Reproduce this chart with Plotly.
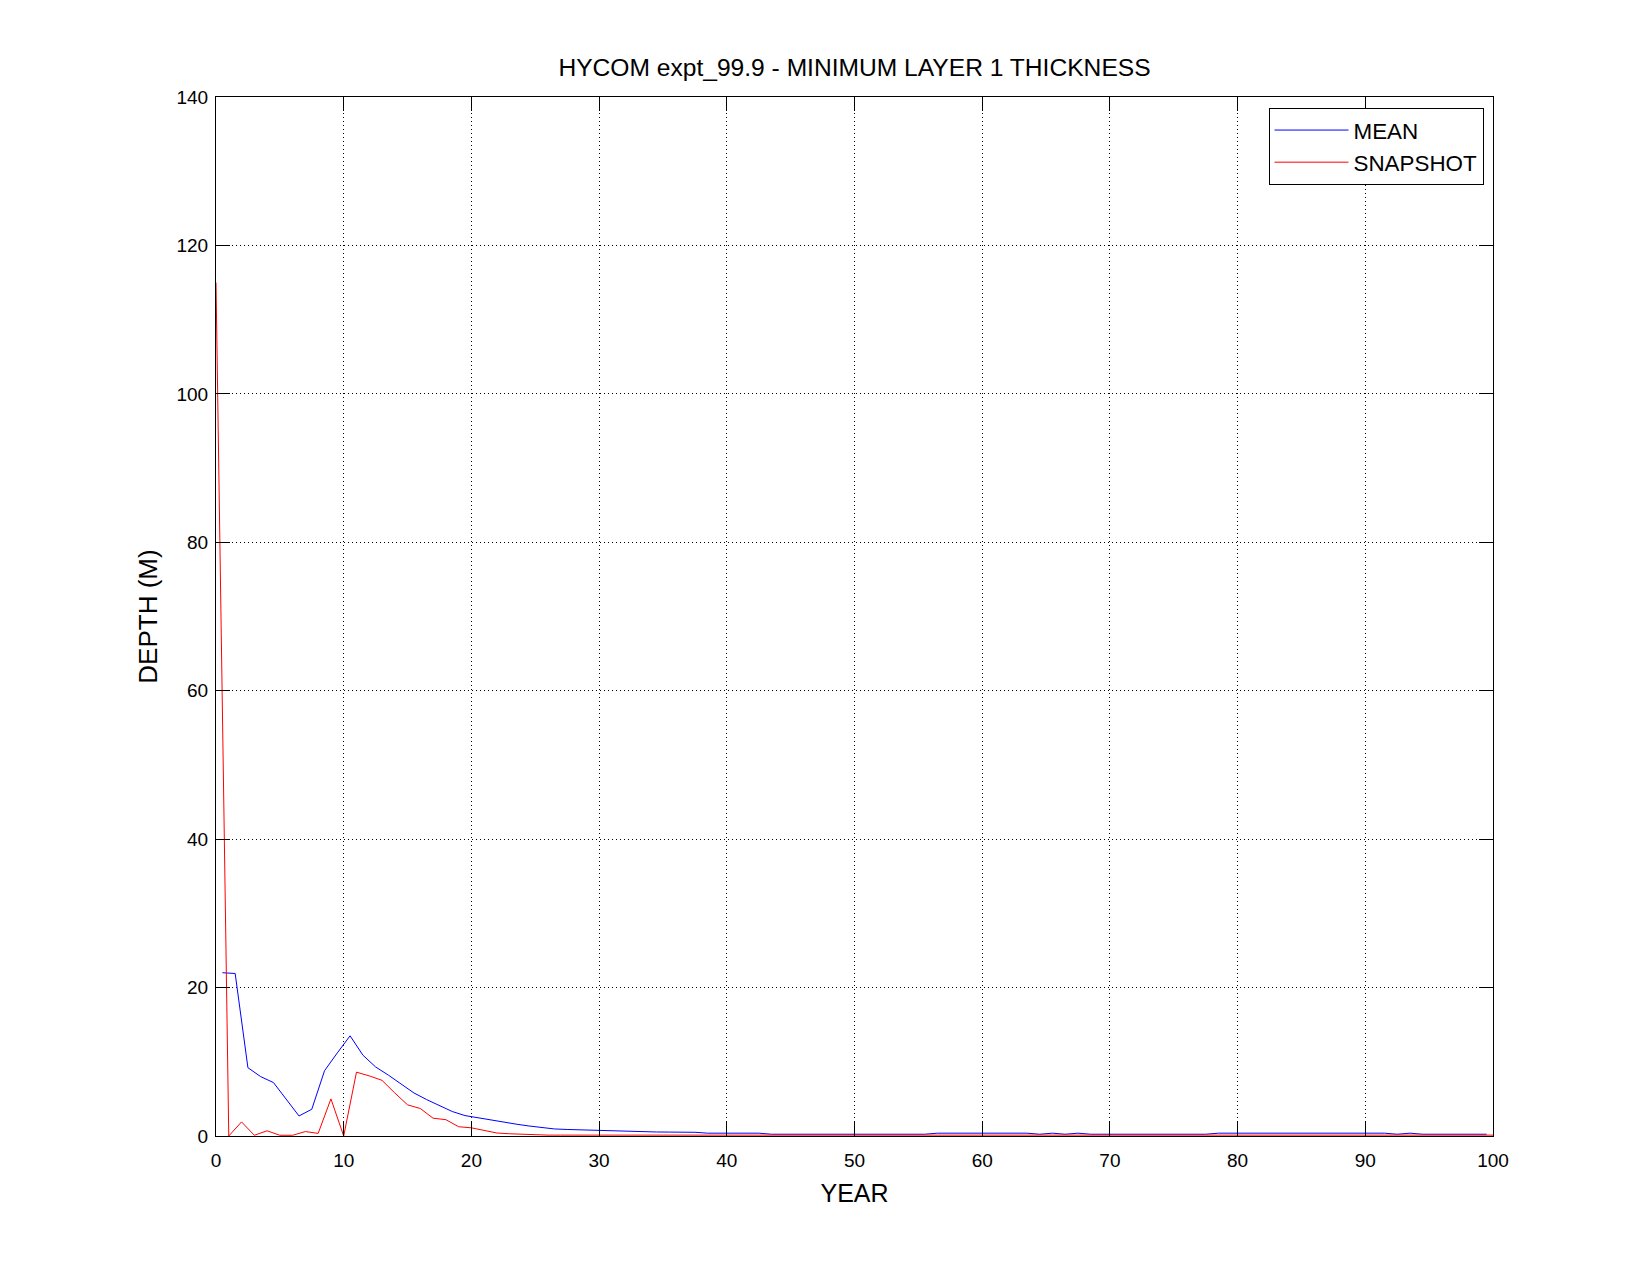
import plotly.graph_objects as go

# MEAN series: annual values plotted at mid-year
mean_years = [y + 0.5 for y in range(100)]
mean_depth = [
    22.0, 21.9, 9.2, 8.0, 7.2, 4.9, 2.7, 3.6, 8.8, 11.2,
    13.5, 10.9, 9.3, 8.2, 7.0, 5.8, 4.9, 4.1, 3.3, 2.75,
    2.45, 2.15, 1.9, 1.6, 1.35, 1.1, 0.95, 0.88, 0.82, 0.76,
    0.70, 0.64, 0.58, 0.55, 0.54, 0.53, 0.52, 0.50, 0.38, 0.38,
    0.38, 0.38, 0.38, 0.24, 0.24, 0.24, 0.24, 0.24, 0.24, 0.24,
    0.24, 0.24, 0.24, 0.24, 0.24, 0.24, 0.38, 0.38, 0.38, 0.38,
    0.38, 0.38, 0.38, 0.38, 0.24, 0.38, 0.24, 0.38, 0.24, 0.24,
    0.24, 0.24, 0.24, 0.24, 0.24, 0.24, 0.24, 0.24, 0.38, 0.38,
    0.38, 0.38, 0.38, 0.38, 0.38, 0.38, 0.38, 0.38, 0.38, 0.38,
    0.38, 0.38, 0.24, 0.38, 0.24, 0.24, 0.24, 0.24, 0.24, 0.24,
]

# SNAPSHOT series: values at integer years 0..100
snap_years = list(range(101))
snap_depth = [
    115.0, 0.0, 1.9, 0.1, 0.7, 0.1, 0.1, 0.6, 0.35, 5.0,
    0.0, 8.6, 8.1, 7.5, 5.8, 4.2, 3.7, 2.4, 2.2, 1.25,
    1.1, 0.75, 0.4, 0.3, 0.22,
] + [0.12] * 76

title_text = "HYCOM expt_99.9 - MINIMUM LAYER 1 THICKNESS"
x_title = "YEAR"
y_title = "DEPTH (M)"
x_ticks = list(range(0, 101, 10))
y_ticks = list(range(0, 141, 20))

FONT = "Liberation Sans, Arial, Helvetica, sans-serif"

fig = go.Figure()
fig.add_trace(go.Scatter(x=mean_years, y=mean_depth, mode="lines", name="MEAN",
                         line=dict(color="#0000ff", width=1)))
fig.add_trace(go.Scatter(x=snap_years, y=snap_depth, mode="lines", name="SNAPSHOT",
                         line=dict(color="#ff0000", width=1)))

axis_common = dict(
    showline=True, linecolor="black", linewidth=1, mirror="ticks",
    ticks="inside", ticklen=14, tickwidth=1, tickcolor="black",
    showgrid=True, gridcolor="black", gridwidth=1, griddash="1px,3px",
    zeroline=False,
    tickfont=dict(family=FONT, size=19, color="black"),
)

fig.update_layout(
    width=1650, height=1275,
    paper_bgcolor="white", plot_bgcolor="white",
    margin=dict(l=208, r=165, t=89, b=147, autoexpand=False),
    title=dict(text=title_text, x=0.5, xref="paper", xanchor="center",
               y=1 - 59 / 1275, yanchor="middle",
               font=dict(family=FONT, size=24.6, color="black")),
    xaxis=dict(range=[0, 100], tickvals=x_ticks, ticktext=[str(v) for v in x_ticks],
               title=dict(text=x_title, font=dict(family=FONT, size=25, color="black"), standoff=14),
               ticklabelstandoff=7,
               **axis_common),
    yaxis=dict(range=[0, 140], tickvals=y_ticks, ticktext=[str(v) for v in y_ticks],
               title=dict(text=y_title, font=dict(family=FONT, size=26, color="black"), standoff=11),
               ticklabelstandoff=3,
               **axis_common),
    legend=dict(x=1 - 9.5 / 1277, xanchor="right", y=1 - 11 / 1039, yanchor="top",
                bgcolor="white", bordercolor="black", borderwidth=1,
                font=dict(family=FONT, size=22.4, color="black"),
                itemwidth=74, tracegroupgap=0),
    showlegend=True,
)

fig.write_html("out.html")
